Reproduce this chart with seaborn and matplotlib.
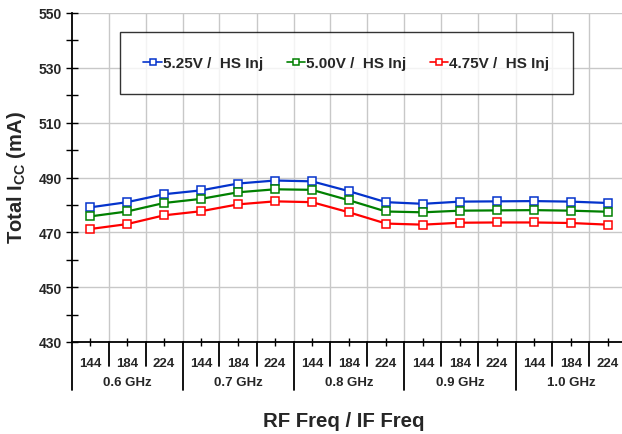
import numpy as np
import pandas as pd
import matplotlib
matplotlib.use("Agg")
import matplotlib.pyplot as plt
import seaborn as sns

# data
rf_groups = ["0.6 GHz", "0.7 GHz", "0.8 GHz", "0.9 GHz", "1.0 GHz"]
if_freqs = ["144", "184", "224"]
icc_525 = [479.1, 481.0, 483.9, 485.3, 487.8, 488.9, 488.6, 485.0, 481.0, 480.4, 481.2, 481.3, 481.4, 481.2, 480.7]
icc_500 = [475.8, 477.6, 480.7, 482.2, 484.6, 485.7, 485.5, 481.7, 477.6, 477.3, 477.9, 478.0, 478.1, 477.9, 477.5]
icc_475 = [471.2, 473.0, 476.2, 477.7, 480.2, 481.3, 481.0, 477.3, 473.2, 472.8, 473.5, 473.6, 473.6, 473.4, 472.8]
series_names = ["5.25V /  HS Inj", "5.00V /  HS Inj", "4.75V /  HS Inj"]
colors = ["#0433CC", "#008000", "#FF0000"]

n_cat = len(rf_groups) * len(if_freqs)
idx = np.arange(n_cat)

sns.set_theme(style="white")
plt.rcParams["font.family"] = ["Liberation Sans", "DejaVu Sans"]
plt.rcParams["font.weight"] = "bold"
plt.rcParams["mathtext.fontset"] = "custom"
plt.rcParams["mathtext.rm"] = "Liberation Sans:bold"
plt.rcParams["mathtext.bf"] = "Liberation Sans:bold"

fig = plt.figure(figsize=(6.22, 4.35), dpi=100)
ax = fig.add_axes([71.5 / 622, 92 / 435, 555 / 622, 329 / 435])

for vals, name, c in zip([icc_525, icc_500, icc_475], series_names, colors):
    sns.lineplot(x=idx, y=vals, color=c, label=name, marker="s", markersize=5.5,
                 markerfacecolor="white", markeredgecolor=c, markeredgewidth=1.1,
                 linewidth=1.6, ax=ax)

ax.set_xlim(-0.5, n_cat - 0.5)
ax.set_ylim(430, 550)
ax.set_yticks(np.arange(430, 551, 20))
ax.set_yticks(np.arange(440, 550, 20), minor=True)
ax.set_xticks(idx)
ax.set_xticklabels(if_freqs * len(rf_groups), fontsize=9.5, fontweight="bold")
ax.set_xticks(idx[:-1] + 0.5, minor=True)
for lab in ax.get_yticklabels():
    lab.set_fontweight("bold")
    lab.set_fontsize(10)

ax.tick_params(axis="y", which="both", direction="inout", length=8, width=1, color="black", left=True, pad=3)
ax.tick_params(axis="x", which="major", direction="inout", length=6, width=1, color="black", bottom=True, pad=8)
ax.tick_params(axis="x", which="minor", length=0)

ax.xaxis.grid(True, which="minor", color="#c8c8c8", linewidth=1)
ax.yaxis.grid(True, which="major", color="#c8c8c8", linewidth=1)
ax.set_axisbelow(True)

for s in ["top", "right"]:
    ax.spines[s].set_visible(False)
for s in ["left", "bottom"]:
    ax.spines[s].set_color("black")
    ax.spines[s].set_linewidth(1.3)

# category separators and group separators below the axis
trans = ax.get_xaxis_transform()
for b in np.arange(n_cat + 1) - 0.5:
    depth = -0.146 if (b + 0.5) % 3 == 0 else -0.073
    ax.plot([b, b], [0, depth], color="black", linewidth=1.3, transform=trans, clip_on=False)
for g, name in enumerate(rf_groups):
    ax.text(g * 3 + 1, -0.122, name, transform=trans, ha="center", va="center",
            fontsize=9.5, fontweight="bold")

ax.set_xlabel("")
ax.set_ylabel("")
fig.text(344 / 622, 1 - 422 / 435, "RF Freq / IF Freq", ha="center", va="center",
         fontsize=14.7, fontweight="bold")
fig.text(17 / 622, 1 - 178 / 435, r"Total I$_\mathbf{CC}$ (mA)", ha="center", va="center",
         rotation=90, fontsize=14.5, fontweight="bold")

handles, labels = ax.get_legend_handles_labels()
leg = ax.legend(handles, labels, loc="center", bbox_to_anchor=(346.5 / 622, 1 - 64 / 435),
                bbox_transform=fig.transFigure, ncol=3, frameon=True, fancybox=False,
                prop={"weight": "bold", "size": 11}, handlelength=1.2, handletextpad=0.1,
                columnspacing=1.5, borderpad=1.55, markerscale=0.75)
leg.get_frame().set_edgecolor("black")
leg.get_frame().set_linewidth(1.0)
for h in leg.legend_handles:
    h.set_linewidth(1.2)

fig.savefig("out.png", dpi=100)
